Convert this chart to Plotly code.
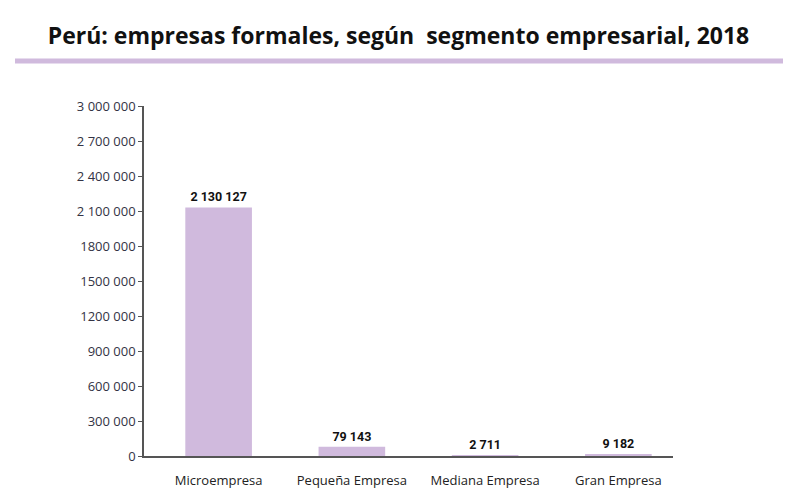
import plotly.graph_objects as go

categories = ["Microempresa", "Pequeña Empresa", "Mediana Empresa", "Gran Empresa"]
values = [2130127, 79143, 2711, 9182]
value_labels = ["2 130 127", "79 143", "2 711", "9 182"]
tick_vals = [0, 300000, 600000, 900000, 1200000, 1500000, 1800000, 2100000, 2400000, 2700000, 3000000]
tick_text = ["0", "300 000", "600 000", "900 000", "1200 000", "1500 000", "1800 000",
             "2 100 000", "2 400 000", "2 700 000", "3 000 000"]

bar_color = "#d0badd"

fig = go.Figure()
fig.add_trace(go.Bar(
    x=list(range(len(categories))), y=values, width=0.5,
    marker=dict(color=bar_color, line=dict(width=0)),
    text=value_labels, textposition="outside", cliponaxis=False,
    textfont=dict(family="Roboto", size=12.5, color="#111111", weight="bold"),
))

L, R, T, B = 144, 124, 106, 44
W, H = 797, 500
pw = W - L - R
ph = H - T - B

fig.update_layout(
    width=W, height=H,
    margin=dict(l=L, r=R, t=T, b=B),
    paper_bgcolor="white", plot_bgcolor="white",
    showlegend=False,
    title=dict(text="<b>Perú: empresas formales, según  segmento empresarial, 2018</b>",
               x=0.5, xanchor="center", y=1 - 36 / H, yanchor="middle",
               font=dict(family="Open Sans", size=23, color="#111111")),
    xaxis=dict(range=[-0.56, 3.41], tickvals=list(range(len(categories))), ticktext=categories,
               showline=True, linecolor="#555555", linewidth=1.5, showgrid=False, zeroline=False,
               ticks="", ticklabelstandoff=12,
               tickfont=dict(family="Open Sans", size=13, color="#222222")),
    yaxis=dict(range=[0, 3000000], tickvals=tick_vals, ticktext=tick_text,
               showline=True, linecolor="#555555", linewidth=1.5, showgrid=False, zeroline=False,
               ticks="outside", ticklen=4, tickcolor="#555555",
               tickfont=dict(family="Open Sans", size=13, color="#333344")),
    shapes=[dict(type="line", xref="paper", yref="paper",
                 x0=(15 - L) / pw, x1=(783 - L) / pw,
                 y0=(H - B - 61) / ph, y1=(H - B - 61) / ph,
                 line=dict(color=bar_color, width=5))],
)

fig.write_html("out.html")
